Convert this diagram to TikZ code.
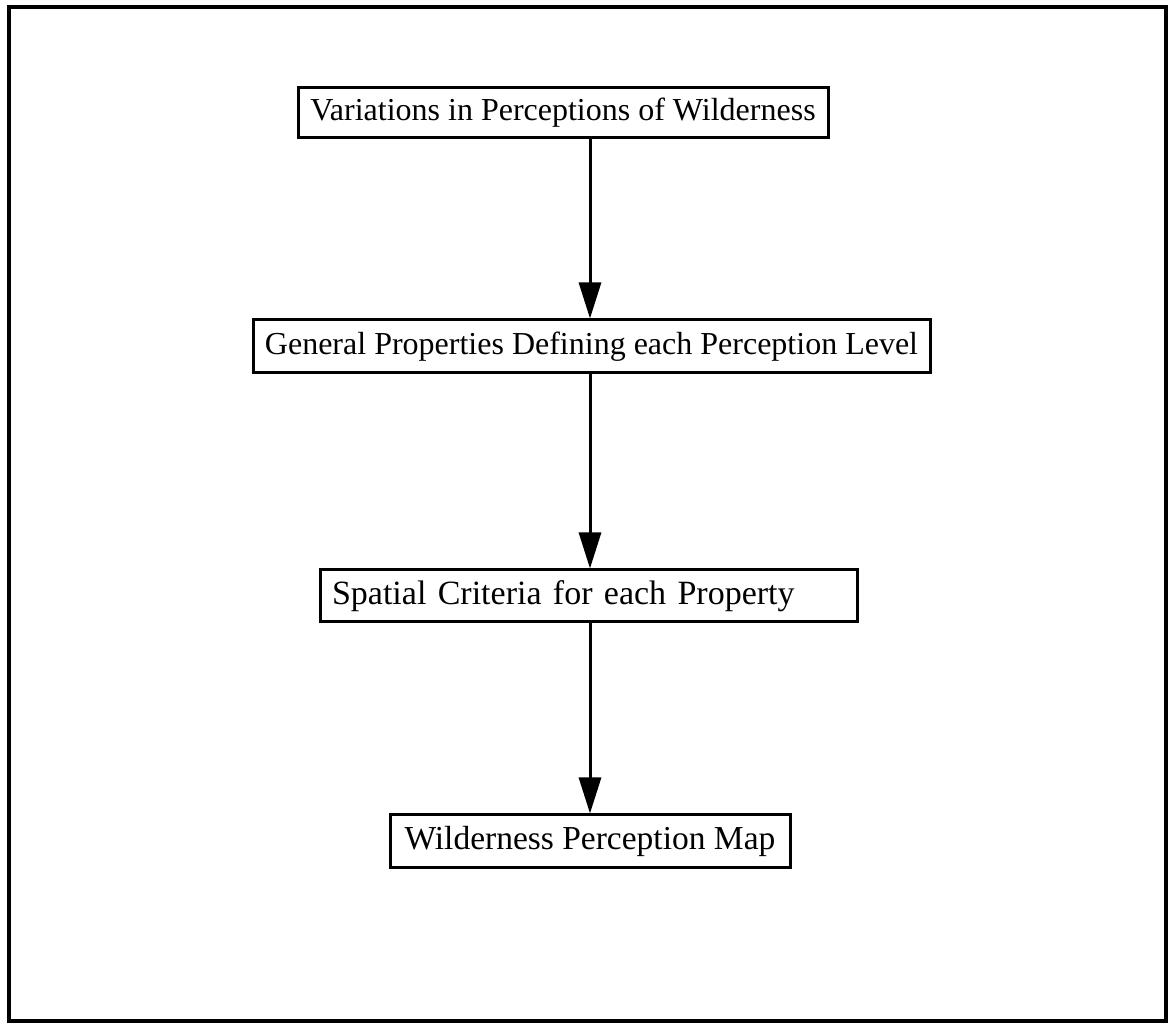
\documentclass[tikz,border=0pt]{standalone}
\usepackage{fontspec}
\setmainfont{Liberation Serif}
\usetikzlibrary{arrows.meta}
\begin{document}
\begin{tikzpicture}[x=1pt,y=1pt,
  stagebox/.style={draw, line width=3pt, inner sep=0pt, font=\fontsize{32}{36}\selectfont},
  flow/.style={line width=3pt, -{Triangle[length=36pt,width=22pt]}}]
  \useasboundingbox (0,0) rectangle (1171,1024);
  % outer frame
  \draw[line width=4pt] (9,3) rectangle (1166,1017);
  % stages
  \node[stagebox, minimum width=530pt, minimum height=50pt] (s1) at (563,911) {Variations in Perceptions of Wilderness};
  \node[stagebox, minimum width=677pt, minimum height=53pt] (s2) at (591.5,677.5) {General Properties Defining each Perception Level};
  \node[stagebox, minimum height=52pt, inner xsep=12pt, text width=513pt, align=left, font=\fontsize{34}{38}\selectfont] (s3) at (588.5,428) {Spatial Criteria for each Property};
  \node[stagebox, minimum width=400pt, minimum height=53pt, font=\fontsize{33.5}{37}\selectfont] (s4) at (590,182.5) {Wilderness Perception Map};
  % connectors
  \draw[flow] (590,0 |- s1.south) -- (590,0 |- s2.north);
  \draw[flow] (590,0 |- s2.south) -- (590,0 |- s3.north);
  \draw[flow] (590,0 |- s3.south) -- (590,0 |- s4.north);
\end{tikzpicture}
\end{document}
